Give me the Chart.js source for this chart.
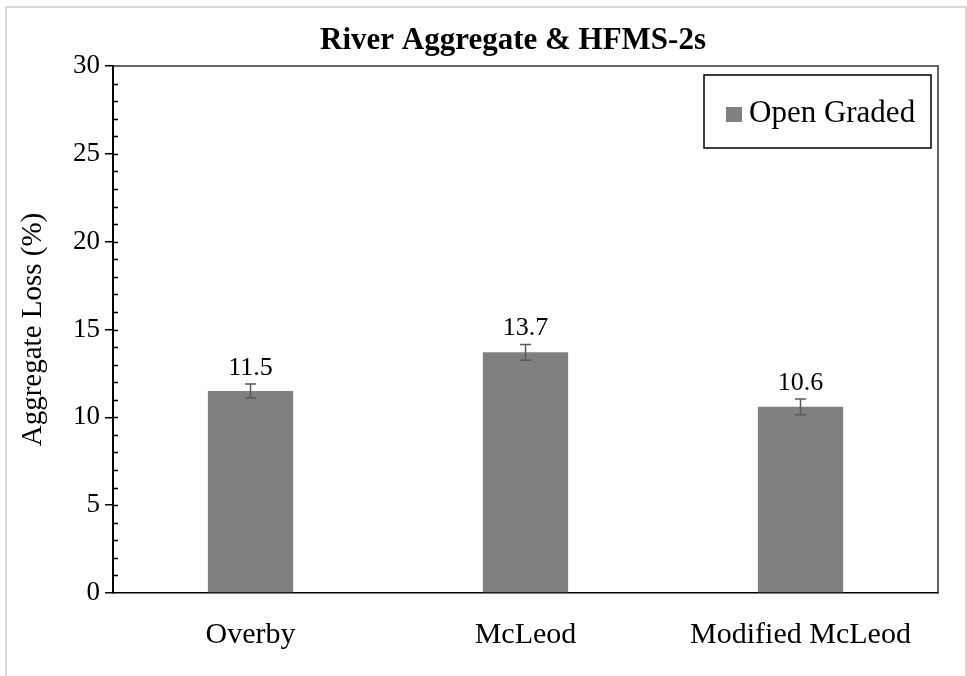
<!DOCTYPE html>
<html>
<head>
<meta charset="utf-8">
<title>River Aggregate & HFMS-2s</title>
<script src="https://cdn.jsdelivr.net/npm/chart.js@4.4.1/dist/chart.umd.min.js"></script>
<style>
  html, body { margin: 0; padding: 0; background: #fff; }
  #wrap { width: 967px; height: 676px; }
</style>
</head>
<body>
<div id="wrap"><canvas id="lossChart" width="967" height="676"></canvas></div>
<script>
const chartTitle = "River Aggregate & HFMS-2s";
const seriesName = "Open Graded";
const methods = ["Overby", "McLeod", "Modified McLeod"];
const lossValues = [11.5, 13.7, 10.6];
const lossErrors = [0.4, 0.45, 0.45];
const yMin = 0;
const yMax = 30;
const yStep = 5;
const yMinorStep = 1;

const FONT = "'Liberation Serif', 'Times New Roman', serif";
const BAR_GREY = "#808080";

// frame, title, minor ticks, error bars, value labels and legend
const decorPlugin = {
  id: "decor",
  beforeDraw(chart) {
    const ctx = chart.ctx;
    ctx.save();
    ctx.fillStyle = "#fff";
    ctx.fillRect(0, 0, chart.width, chart.height);
    ctx.strokeStyle = "#d9d9d9";
    ctx.lineWidth = 2;
    ctx.strokeRect(6, 7, 960, 700);
    ctx.fillStyle = "#000";
    ctx.font = "bold 31px " + FONT;
    ctx.textAlign = "center";
    ctx.textBaseline = "alphabetic";
    ctx.fillText(chartTitle, 513, 49);
    ctx.restore();
  },
  afterDraw(chart) {
    const ctx = chart.ctx;
    const area = chart.chartArea;
    const y = chart.scales.y;
    ctx.save();

    // top and right edges of the plot box
    ctx.strokeStyle = "#333";
    ctx.lineWidth = 1.5;
    ctx.beginPath();
    ctx.moveTo(area.left, area.top);
    ctx.lineTo(area.right, area.top);
    ctx.lineTo(area.right, area.bottom);
    ctx.stroke();

    // inward tick marks on the value axis
    ctx.strokeStyle = "#000";
    ctx.lineWidth = 1.5;
    for (let v = yMin + yMinorStep; v < yMax; v += yMinorStep) {
      const py = Math.round(y.getPixelForValue(v)) + 0.5;
      ctx.beginPath();
      ctx.moveTo(area.left, py);
      ctx.lineTo(area.left + 5, py);
      ctx.stroke();
    }

    // error bars and value labels
    const meta = chart.getDatasetMeta(0);
    meta.data.forEach((bar, i) => {
      const v = lossValues[i];
      const e = lossErrors[i];
      const top = y.getPixelForValue(v + e);
      const bot = y.getPixelForValue(v - e);
      ctx.strokeStyle = "#595959";
      ctx.lineWidth = 1.5;
      ctx.beginPath();
      ctx.moveTo(bar.x, top);
      ctx.lineTo(bar.x, bot);
      ctx.moveTo(bar.x - 5.5, top);
      ctx.lineTo(bar.x + 5.5, top);
      ctx.moveTo(bar.x - 5.5, bot);
      ctx.lineTo(bar.x + 5.5, bot);
      ctx.stroke();

      ctx.fillStyle = "#000";
      ctx.font = "26px " + FONT;
      ctx.textAlign = "center";
      ctx.textBaseline = "alphabetic";
      ctx.fillText(v.toFixed(1), bar.x, top - 9);
    });

    // legend box
    const lx = area.right - 234;
    const ly = area.top + 9;
    ctx.strokeStyle = "#000";
    ctx.lineWidth = 1.5;
    ctx.strokeRect(lx, ly, 227, 73);
    ctx.fillStyle = BAR_GREY;
    ctx.fillRect(lx + 22, ly + 32, 16, 15);
    ctx.fillStyle = "#000";
    ctx.font = "31px " + FONT;
    ctx.textAlign = "left";
    ctx.textBaseline = "middle";
    ctx.fillText(chart.data.datasets[0].label, lx + 45, ly + 39);
    ctx.restore();
  }
};

new Chart(document.getElementById("lossChart"), {
  type: "bar",
  data: {
    labels: methods,
    datasets: [{
      label: seriesName,
      data: lossValues,
      backgroundColor: BAR_GREY,
      borderWidth: 0,
      categoryPercentage: 1,
      barPercentage: 0.31
    }]
  },
  options: {
    responsive: false,
    animation: false,
    layout: { padding: { left: 0, top: 66, right: 29, bottom: 0 } },
    plugins: {
      legend: { display: false },
      title: { display: false },
      tooltip: { enabled: false }
    },
    scales: {
      x: {
        afterFit(scale) { scale.height = 83; },
        grid: { display: false, drawTicks: false },
        border: { display: true, color: "#000", width: 1.5 },
        ticks: { color: "#000", padding: 24, font: { family: FONT, size: 30 } }
      },
      y: {
        min: yMin,
        max: yMax,
        afterFit(scale) { scale.width = 113; },
        grid: { drawOnChartArea: false, drawTicks: true, tickLength: 8, color: "#000", lineWidth: 1.5 },
        border: { display: true, color: "#000", width: 2 },
        ticks: { stepSize: yStep, color: "#000", padding: 5, font: { family: FONT, size: 27 } },
        title: {
          display: true,
          text: "Aggregate Loss (%)",
          color: "#000",
          padding: { top: 16, bottom: 0 },
          font: { family: FONT, size: 29 }
        }
      }
    }
  },
  plugins: [decorPlugin]
});
</script>
</body>
</html>
